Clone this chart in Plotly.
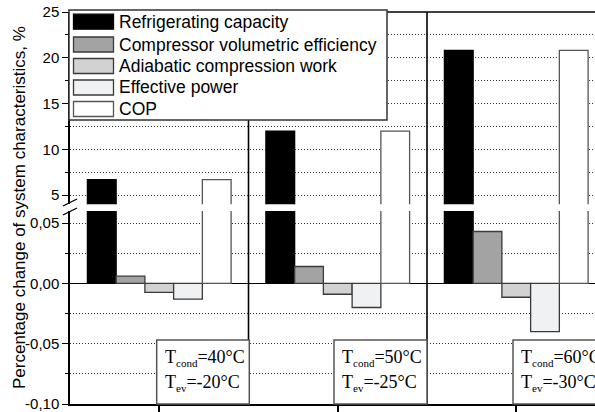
import plotly.graph_objects as go

# Operating points (group centres on a numeric x axis)
groups = [1, 2, 3]
cond_temps = [40, 50, 60]
evap_temps = [-20, -25, -30]

# Percentage change of each characteristic per operating point
series_names = [
    "Refrigerating capacity",
    "Compressor volumetric efficiency",
    "Adiabatic compression work",
    "Effective power",
    "COP",
]
refrigerating_capacity = [6.7, 12.0, 20.8]
volumetric_efficiency = [0.006, 0.014, 0.043]
adiabatic_work = [-0.0075, -0.009, -0.0115]
effective_power = [-0.013, -0.020, -0.040]
cop = [6.7, 12.0, 20.8]
series_values = [refrigerating_capacity, volumetric_efficiency,
                 adiabatic_work, effective_power, cop]

# Axis ticks
upper_ticks = [5, 10, 15, 20, 25]
upper_minor = [7.5, 12.5, 17.5, 22.5]
lower_ticks = [-0.10, -0.05, 0.0, 0.05]
lower_tick_text = ["-0,10", "-0,05", "0,00", "0,05"]
lower_minor = [-0.075, -0.025, 0.025]

fills = ["#000000", "#a3a3a3", "#d2d2d2", "#eff1f3", "#ffffff"]
edges = ["#000000", "#3a3a3a", "#3a3a3a", "#3a3a3a", "#555555"]

W, H = 595, 412
ML, MR, MT, MB = 70, 0, 12, 8
PW, PH = W - ML - MR, H - MT - MB


def px(x):
    return (x - ML) / PW


def py(y):
    return (H - MB - y) / PH


fig = go.Figure()
for yax in ("y", "y2"):
    for name, vals, fc, ec in zip(series_names, series_values, fills, edges):
        fig.add_trace(go.Bar(
            x=groups, y=vals, name=name, xaxis="x", yaxis=yax,
            marker=dict(color=fc, line=dict(color=ec, width=1.3)),
            showlegend=False, hoverinfo="skip",
        ))

sans = "Liberation Sans, Arial, sans-serif"
axis_font = dict(family=sans, size=15, color="#000")
DOT = "1px,2px"
grid = dict(showgrid=True, gridcolor="#333", gridwidth=1, griddash=DOT)
minor_grid = dict(ticks="outside", ticklen=3, tickcolor="#000", showgrid=True,
                  gridcolor="#333", gridwidth=1, griddash=DOT)

fig.update_layout(
    width=W, height=H,
    margin=dict(l=ML, r=MR, t=MT, b=MB),
    paper_bgcolor="white", plot_bgcolor="white",
    barmode="group", bargap=0.195, bargroupgap=0,
    font=axis_font,
    xaxis=dict(range=[0.5, 0.5 + PW / 178.5], tickvals=groups,
               showticklabels=False, ticks="outside", ticklen=8,
               tickcolor="#000", tickwidth=1.5, showgrid=False,
               zeroline=False, showline=True, linecolor="#000",
               linewidth=1.5, anchor="y"),
    yaxis=dict(domain=[0, py(211)], range=[-0.10, 0.06],
               tickvals=lower_ticks, ticktext=lower_tick_text,
               ticks="outside", ticklen=6, tickwidth=1.3, tickcolor="#000",
               ticklabeloverflow="allow",
               showline=True, linecolor="#000", linewidth=1.5,
               zeroline=True, zerolinecolor="#000", zerolinewidth=1.3,
               minor=dict(tickvals=lower_minor, **minor_grid),
               **grid),
    yaxis2=dict(domain=[py(204.3), 1], range=[4, 25],
                tickvals=upper_ticks, ticktext=[str(t) for t in upper_ticks],
                ticks="outside", ticklen=6, tickwidth=1.3, tickcolor="#000",
                ticklabeloverflow="allow",
                showline=True, linecolor="#000", linewidth=1.5,
                zeroline=False, anchor="x",
                minor=dict(tickvals=upper_minor, **minor_grid),
                **grid),
)

shapes = []
annotations = []

# top frame line
shapes.append(dict(type="line", xref="paper", yref="paper", x0=0, x1=1,
                   y0=1, y1=1, line=dict(color="#000", width=1.5)))
# group separators
for xs in (1.5, 2.5):
    shapes.append(dict(type="line", xref="x", yref="paper", x0=xs, x1=xs,
                       y0=0, y1=1, line=dict(color="#000", width=1.6)))
# axis break marks
for yc in (202.5, 211.5):
    shapes.append(dict(type="line", xref="paper", yref="paper",
                       x0=px(63), y0=py(yc + 3.5), x1=px(77), y1=py(yc - 3.5),
                       line=dict(color="#000", width=1.3)))

# condition boxes
serif = dict(family="Liberation Serif, Times New Roman, serif", size=18, color="#000")
sub_style = '<span style="font-size:11px">{}</span>'
box_x = [(156.7, 249.3), (334, 427), (513, 600)]
for (bx0, bx1), tc, te in zip(box_x, cond_temps, evap_temps):
    shapes.append(dict(type="rect", xref="paper", yref="paper",
                       x0=px(bx0), x1=px(bx1), y0=py(404), y1=py(340),
                       fillcolor="white", line=dict(color="#555", width=1.5),
                       layer="above"))
    annotations.append(dict(xref="paper", yref="paper", x=px(bx0 + 6), y=py(358),
                            xanchor="left", yanchor="middle", showarrow=False,
                            text="T<sub>" + sub_style.format("cond") + f"</sub>={tc}°C",
                            font=serif))
    annotations.append(dict(xref="paper", yref="paper", x=px(bx0 + 6), y=py(383),
                            xanchor="left", yanchor="middle", showarrow=False,
                            text="T<sub>" + sub_style.format("ev") + f"</sub>=-{abs(te)}°C",
                            font=serif))

# legend box
shapes.append(dict(type="rect", xref="paper", yref="paper",
                   x0=px(69), x1=px(387), y0=py(120), y1=py(10),
                   fillcolor="white", line=dict(color="#333", width=1.5),
                   layer="above"))
row_centres = [21.7, 44.5, 66, 87.5, 109]
for name, fc, ec, yc in zip(series_names, fills, edges, row_centres):
    shapes.append(dict(type="rect", xref="paper", yref="paper",
                       x0=px(73.5), x1=px(113.5), y0=py(yc + 7.5), y1=py(yc - 7.5),
                       fillcolor=fc, line=dict(color=ec, width=1.3), layer="above"))
    annotations.append(dict(xref="paper", yref="paper", x=px(117), y=py(yc),
                            xanchor="left", yanchor="middle", showarrow=False,
                            text=name,
                            font=dict(family=sans, size=17.5, color="#000")))

# y-axis title
annotations.append(dict(xref="paper", yref="paper", x=px(19), y=py(208),
                        xanchor="center", yanchor="middle", showarrow=False,
                        textangle=-90,
                        text="Percentage change of system characteristics, %",
                        font=dict(family=sans, size=17, color="#000")))

fig.update_layout(shapes=shapes, annotations=annotations)
fig.write_html("out.html")
